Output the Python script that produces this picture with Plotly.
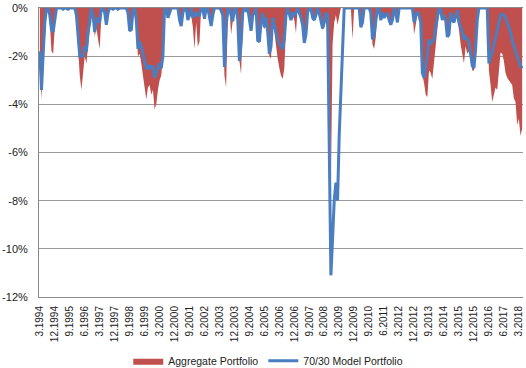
import plotly.graph_objects as go

# Monthly categories: 3.1994 .. 5.2018
months = []
for yr in range(1994, 2019):
    for m in range(1, 13):
        if (yr == 1994 and m < 3) or (yr == 2018 and m > 5):
            continue
        months.append(f"{m}.{yr}")

tick_labels = ["3.1994", "12.1994", "9.1995", "6.1996", "3.1997", "12.1997", "9.1998",
               "6.1999", "3.2000", "12.2000", "9.2001", "6.2002", "3.2003", "12.2003",
               "9.2004", "6.2005", "3.2006", "12.2006", "9.2007", "6.2008", "3.2009",
               "12.2009", "9.2010", "6.2011", "3.2012", "12.2012", "9.2013", "6.2014",
               "3.2015", "12.2015", "9.2016", "6.2017", "3.2018"]

y_tick_vals = [0, -2, -4, -6, -8, -10, -12]
y_tick_text = ["0%", "-2%", "-4%", "-6%", "-8%", "-10%", "-12%"]

# Drawdown (%) of the 70/30 Model Portfolio
model_dd = [
    -1.8, -3.4, -1.9, -0.6, 0, 0, -0.3, -0.9, -1.0, -0.4,                      # 1994
    0, 0, 0, 0, -0.05, 0, 0, -0.05, 0, 0, 0, 0,                                 # 1995
    -0.3, -1.2, -2.0, -2.0, -2.0, -1.6, -1.8, -1.0, -0.6, 0, -0.3, -1.0,        # 1996
    -0.6, -0.4, -0.6, 0, 0, -0.2, -0.7, -0.2, 0, 0, -0.05, 0,                   # 1997
    0, -0.05, 0, 0, 0, 0, 0, -0.2, -0.95, -0.9, -0.1, 0,                        # 1998
    -0.5, -1.7, -1.4, -1.6, -1.9, -2.2, -2.5, -2.5, -2.4, -2.5, -2.4, -2.9,     # 1999
    -2.7, -2.5, -2.3, -2.5, -2.0, 0, 0, -0.4, -0.2, 0, 0, 0,                    # 2000
    0, 0, -0.5, -0.75, -0.2, 0, 0, -0.5, -0.3, 0, -0.4, -0.3,                   # 2001
    -0.2, -0.3, -0.3, 0, 0, -0.45, 0, 0, -0.4, -0.75, -0.3, 0,                  # 2002
    0, 0, 0, -0.1, -0.3, -2.45, -0.8, 0, 0, -0.3, -0.55, 0,                     # 2003
    0, -0.5, -2.2, -1.5, -0.2, 0, -0.1, 0, -0.6, -0.95, -0.3, -0.2,             # 2004
    0, -1.35, -1.4, -0.6, -0.2, -0.8, -0.4, -1.0, -1.9, -1.6, -0.4, -0.7,       # 2005
    -1.1, -1.3, -1.5, -1.6, -1.7, -1.3, -0.3, 0, -0.3, -0.5, -0.2, -0.3,        # 2006
    -0.2, 0, -0.2, -0.4, -0.7, -1.45, -1.1, -0.2, 0, 0, -0.4, -0.5,             # 2007
    -0.3, 0, -0.2, -0.5, -0.85, -0.6, -0.2, -0.3, -5.5, -11.1, -9.6, -8.0,      # 2008
    -7.25, -8.0, -5.3, -3.3, -1.3, 0, 0, 0, 0, 0, 0, 0,                         # 2009
    0, 0, 0, -0.8, -0.6, 0, 0, 0, 0, -0.2, -1.3, -1.1,                          # 2010
    -0.5, 0, 0, -0.5, -0.2, -0.4, -0.3, -0.2, -0.5, -0.7, -0.5, 0,              # 2011
    -0.2, -0.6, 0, 0, 0, 0, 0, 0, 0, 0, 0, -0.6,                                # 2012
    -0.3, -0.2, -0.3, -0.6, -2.7, -2.9, -2.5, -2.0, -1.3, -1.5, -1.4, -1.3,     # 2013
    -0.8, -0.3, 0, -0.1, -0.5, -0.3, -0.5, -1.2, -1.1, -0.2, -0.5, -0.6,        # 2014
    -0.3, -0.1, -0.6, -0.8, -1.0, -1.3, -1.2, -1.3, -1.45, -1.9, -2.4, -2.5,    # 2015
    -1.7, -0.5, 0, 0, 0, 0, 0, 0, -2.3, -2.0, -1.85, -1.5,                      # 2016
    -1.2, -0.9, -0.6, -0.3, -0.25, -0.3, -0.4, -0.6, -0.8, -1.0, -1.35, -1.6,   # 2017
    -1.85, -2.0, -2.2, -2.4, -2.5,                                              # 2018
]

# Drawdown (%) of the Aggregate Portfolio
aggregate_dd = [
    -1.9, -3.8, -2.6, -1.3, -0.2, 0, -0.6, -1.8, -1.9, -0.8,                   # 1994
    0, 0, 0, 0, -0.05, 0, -0.1, -0.05, 0, 0, 0, 0,                              # 1995
    -0.5, -1.8, -2.8, -3.4, -2.7, -2.0, -2.3, -1.4, -0.9, -0.2, -0.4, -1.2,     # 1996
    -0.8, -1.3, -1.7, -0.3, 0, -0.2, -0.7, -0.3, 0, 0, -0.05, 0,                # 1997
    0, -0.1, 0, 0, 0, 0, 0, -0.2, -1.0, -0.9, -0.1, -0.2,                       # 1998
    -0.9, -2.0, -1.9, -2.3, -2.8, -3.1, -3.8, -3.3, -3.2, -3.6, -3.4, -4.2,     # 1999
    -4.0, -3.4, -3.0, -2.8, -2.0, 0, 0, -0.4, -0.2, 0, 0, 0,                    # 2000
    0, 0, -0.5, -0.75, -0.2, 0, 0, -0.5, -0.3, -0.3, -0.8, -1.7,                # 2001
    -0.6, -1.6, -1.4, 0, 0, -0.45, 0, 0, -0.4, -0.75, -0.3, 0,                  # 2002
    0, 0, 0, -0.1, -0.5, -2.8, -3.3, -0.5, 0, -1.1, -0.6, 0,                    # 2003
    0, -0.6, -2.2, -2.75, -0.6, 0, -0.1, 0, -0.8, -0.95, -0.3, -0.2,            # 2004
    0, -1.35, -1.45, -0.6, -0.4, -0.9, -0.6, -1.4, -2.0, -2.1, -0.6, -1.0,      # 2005
    -1.6, -2.1, -2.5, -2.8, -2.95, -2.5, -0.8, 0, -0.3, -0.5, -0.3, -0.5,       # 2006
    -1.05, 0, -0.2, -0.4, -0.7, -1.45, -1.1, -0.2, 0, 0, -0.4, -0.5,            # 2007
    -0.3, 0, -0.2, -0.6, -0.9, -0.8, -0.5, -1.0, -2.5, -7.5, -1.5, -0.6,        # 2008
    -0.3, -0.7, -0.3, 0, 0, 0, 0, 0, 0, 0, -1.3, 0,                             # 2009
    0, 0, 0, -0.8, -0.6, 0, 0, 0, 0, -0.3, -1.5, -1.7,                          # 2010
    -1.2, -0.2, 0, -0.5, -0.2, -0.4, -0.3, -0.2, -0.5, -0.7, -0.5, 0,           # 2011
    -0.2, -0.6, 0, 0, 0, 0, 0, 0, 0, 0, 0, -1.1,                                # 2012
    -0.6, -0.3, -0.3, -0.8, -2.8, -3.1, -3.6, -3.7, -2.6, -2.7, -2.95, -2.2,    # 2013
    -1.4, -0.7, -0.2, -0.1, -0.5, -0.3, -0.5, -1.2, -1.1, -0.3, -0.5, -0.6,     # 2014
    -0.3, -0.5, -0.9, -1.5, -1.85, -2.3, -1.6, -1.9, -1.8, -2.2, -2.6, -2.6,    # 2015
    -1.8, -0.6, 0, 0, 0, 0, 0, -0.2, -2.6, -3.2, -3.9, -3.6,                    # 2016
    -3.3, -3.4, -2.7, -1.85, -1.9, -2.2, -2.7, -2.9, -3.0, -3.1, -3.2, -3.75,   # 2017
    -3.9, -4.85, -4.6, -5.3, -5.0,                                              # 2018
]

RED = "#C0504D"
BLUE = "#4A7EC0"
GRID = "#999999"
FONT = "Liberation Sans, Arial, sans-serif"

fig = go.Figure()
fig.add_trace(go.Scatter(
    x=months, y=aggregate_dd, name="Aggregate Portfolio",
    mode="lines", line=dict(width=0, color=RED), fill="tozeroy", fillcolor=RED,
))
fig.add_trace(go.Scatter(
    x=months, y=model_dd, name="70/30 Model Portfolio",
    mode="lines", line=dict(width=3, color=BLUE),
))

fig.update_layout(
    width=526, height=368,
    margin=dict(l=35, r=2, t=5, b=71),
    paper_bgcolor="white", plot_bgcolor="white",
    font=dict(family=FONT, size=11, color="#222222"),
    showlegend=True,
    legend=dict(orientation="h", xref="container", yref="container",
                x=0.51, xanchor="center", y=0.02, yanchor="middle",
                font=dict(size=10.5, family=FONT, color="#222222"),
                itemwidth=30, tracegroupgap=0),
    xaxis=dict(
        type="category", tickmode="array", tickvals=tick_labels, ticktext=tick_labels,
        tickangle=-90, tickfont=dict(size=10), showgrid=False,
        showline=True, mirror=True, linecolor="#8a8a8a", linewidth=1,
        ticks="outside", ticklen=4, tickcolor="rgba(0,0,0,0)",
        range=[-0.5, len(months) - 0.5], zeroline=False,
    ),
    yaxis=dict(
        range=[-12, 0.0001], tickmode="array", tickvals=y_tick_vals, ticktext=y_tick_text,
        showgrid=True, gridcolor=GRID, gridwidth=1,
        showline=True, linecolor="#8a8a8a", linewidth=1,
        ticks="outside", ticklen=8, tickcolor="rgba(0,0,0,0)",
        zeroline=False, tickfont=dict(size=11), ticklabeloverflow="allow",
    ),
)

fig.write_html("out.html", config={"displayModeBar": False},
               post_script="document.body.style.margin='0';")
